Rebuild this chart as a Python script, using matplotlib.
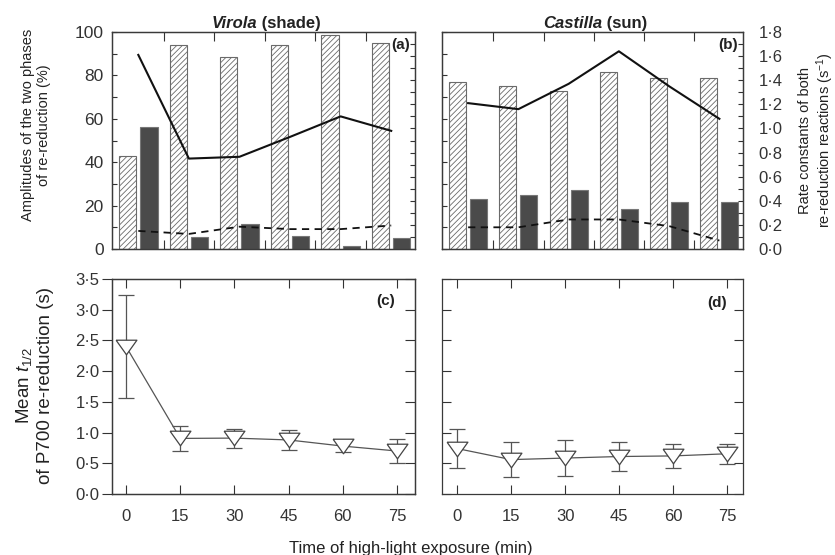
import numpy as np
import matplotlib.pyplot as plt
from matplotlib.ticker import MultipleLocator, FuncFormatter

plt.rcParams['font.family'] = ['Liberation Sans', 'DejaVu Sans']
plt.rcParams['mathtext.fontset'] = 'custom'
plt.rcParams['mathtext.rm'] = 'Liberation Sans'
plt.rcParams['mathtext.it'] = 'Liberation Sans:italic'
plt.rcParams['mathtext.bf'] = 'Liberation Sans:bold'
plt.rcParams['hatch.linewidth'] = 0.6

times = [0, 15, 30, 45, 60, 75]

# amplitudes (%) of the two re-reduction phases
vir_amp1 = [43, 94, 88.5, 94, 98.5, 95]
vir_amp2 = [56, 5.5, 11.5, 6, 1.2, 5]
cas_amp1 = [77, 75, 73, 81.5, 79, 78.7]
cas_amp2 = [23, 25, 27, 18.5, 21.5, 21.5]

# rate constants (s-1)
vir_k1 = [1.61, 0.75, 0.765, 0.93, 1.10, 0.98]
vir_k2 = [0.15, 0.125, 0.185, 0.165, 0.165, 0.195]
cas_k1 = [1.21, 1.16, 1.37, 1.64, 1.35, 1.08]
cas_k2 = [0.18, 0.18, 0.245, 0.245, 0.19, 0.07]

# mean t1/2 (s) with error
vir_t = [2.40, 0.905, 0.91, 0.88, 0.78, 0.70]
vir_err = [0.84, 0.20, 0.155, 0.16, 0.10, 0.20]
cas_t = [0.74, 0.56, 0.585, 0.61, 0.62, 0.655]
cas_err = [0.32, 0.29, 0.295, 0.23, 0.20, 0.165]

W, H = 835, 555


def rect(l, t, r, b):
    return [l / W, 1 - b / H, (r - l) / W, (b - t) / H]


def dot(v, pos):
    return f"{v:.1f}".replace('.', '\u00b7')


def style_spines(ax):
    for s in ax.spines.values():
        s.set_color('#3a3a3a')
        s.set_linewidth(0.9)


fig = plt.figure(figsize=(W / 100, H / 100), dpi=100)
tick_c = '#333333'
txt_c = '#222222'

ax_a = fig.add_axes(rect(112, 32, 415, 249))
ax_b = fig.add_axes(rect(442, 32, 743, 249))
ax_c = fig.add_axes(rect(112, 279, 415, 494))
ax_d = fig.add_axes(rect(442, 279, 743, 494))

x = np.arange(len(times))
top = [(ax_a, vir_amp1, vir_amp2, vir_k1, vir_k2, '(a)', 'Virola', ' (shade)', 0.479),
       (ax_b, cas_amp1, cas_amp2, cas_k1, cas_k2, '(b)', 'Castilla', ' (sun)', 0.532)]
for i, (ax, a1, a2, k1, k2, tag, genus, light, split) in enumerate(top):
    ax.bar(x - 0.21, a1, 0.34, color='white', edgecolor='#6a6a6a', hatch='//////', lw=0.8)
    ax.bar(x + 0.21, a2, 0.34, color='#4a4a4a', edgecolor='#777777', lw=0.8)
    ax.set_xlim(-0.52, 5.47)
    ax.set_ylim(0, 100)
    ax.set_xticks(x[:-1] + 0.5)
    ax.set_xticklabels([])
    ax.yaxis.set_major_locator(MultipleLocator(10))
    ax.yaxis.set_major_formatter(FuncFormatter(lambda v, p: f"{v:.0f}" if round(v) % 20 == 0 else ""))
    ax.tick_params(axis='x', direction='in', length=6.5, top=True, bottom=True, color=tick_c)
    ax.tick_params(axis='y', direction='in', length=3.5, color=tick_c, labelsize=12.5,
                   labelcolor=tick_c, pad=6)
    if i == 1:
        ax.set_yticklabels([])
    tw = ax.twinx()
    tw.plot(x, k1, color='#111111', lw=1.5)
    tw.plot(x, k2, color='#111111', lw=1.3, ls=(0, (4, 3)))
    tw.set_ylim(0, 1.8)
    tw.yaxis.set_major_locator(MultipleLocator(0.1))
    tw.yaxis.set_major_formatter(FuncFormatter(lambda v, p: dot(v, p) if round(v * 10) % 2 == 0 else ""))
    tw.tick_params(axis='y', direction='in', length=3.8, color=tick_c, labelsize=12,
                   labelcolor=tick_c, pad=11)
    if i == 0:
        tw.set_yticklabels([])
    style_spines(ax)
    style_spines(tw)
    tw.text(0.983, 0.94, tag, transform=tw.transAxes, ha='right', va='center',
            fontsize=11, fontweight='bold', color=txt_c)
    t1 = ax.text(split, 1.02, genus, transform=ax.transAxes, ha='right', va='baseline',
                 fontsize=12, fontweight='bold', fontstyle='italic', color=txt_c)
    ax.annotate(light, xy=(1, 0), xycoords=t1, ha='left', va='bottom',
                fontsize=12, fontweight='bold', color=txt_c)

tri = np.array([(-1, 0.7), (1, 0.7), (0, -0.7), (-1, 0.7)])
bottom = [(ax_c, vir_t, vir_err, '(c)', (-3.9, 80), (0.934, 0.898)),
          (ax_d, cas_t, cas_err, '(d)', (-4.2, 79.4), (0.947, 0.89))]
for i, (ax, tv, te, tag, xl, pos) in enumerate(bottom):
    ax.errorbar(times, tv, yerr=te, color='#555555', lw=0.9, elinewidth=0.9,
                capsize=6, capthick=0.9, marker=tri, ms=15, mfc='white',
                mec='#444444', mew=0.9)
    ax.set_xlim(*xl)
    ax.set_ylim(0, 3.5)
    ax.set_xticks(times)
    ax.set_xticklabels([str(t) for t in times])
    ax.yaxis.set_major_locator(MultipleLocator(0.5))
    ax.yaxis.set_major_formatter(FuncFormatter(dot))
    ax.tick_params(axis='x', direction='in', length=6.5, top=True, bottom=True,
                   color=tick_c, labelsize=12, labelcolor=tick_c, pad=11)
    if i == 0:
        ax.tick_params(axis='y', left=True, right=False, direction='out', length=7,
                       color=tick_c, labelsize=12, labelcolor=tick_c, pad=2)
        # inward ticks on the right-hand spine
        rt = ax.twinx()
        rt.set_ylim(0, 3.5)
        rt.yaxis.set_major_locator(MultipleLocator(0.5))
        rt.tick_params(axis='y', direction='in', length=7, color=tick_c, labelright=False)
        style_spines(rt)
    else:
        ax.tick_params(axis='y', direction='in', length=6.5, left=True, right=True,
                       color=tick_c, labelleft=False)
    style_spines(ax)
    ax.text(pos[0], pos[1], tag, transform=ax.transAxes, ha='right', va='center',
            fontsize=11, fontweight='bold', color=txt_c)

fig.text(36 / W, 1 - 125 / H, 'Amplitudes of the two phases\nof re-reduction (%)',
         rotation=90, ha='center', va='center', fontsize=10.5, color=txt_c,
         multialignment='center', linespacing=1.2)
fig.text(817 / W, 1 - 140 / H, 'Rate constants of both\nre-reduction reactions (s$^{-1}$)',
         rotation=90, ha='center', va='center', fontsize=10.5, color=txt_c,
         multialignment='center', linespacing=1.1)
fig.text(34 / W, 1 - 386 / H, 'Mean $\\mathit{t}_{1/2}$\nof P700 re-reduction (s)',
         rotation=90, ha='center', va='center', fontsize=13.5, color=txt_c,
         multialignment='center', linespacing=1.2)
fig.text(411 / W, 1 - 548 / H, 'Time of high-light exposure (min)',
         ha='center', va='center', fontsize=12, color=txt_c)

fig.savefig('out.png', dpi=100)
